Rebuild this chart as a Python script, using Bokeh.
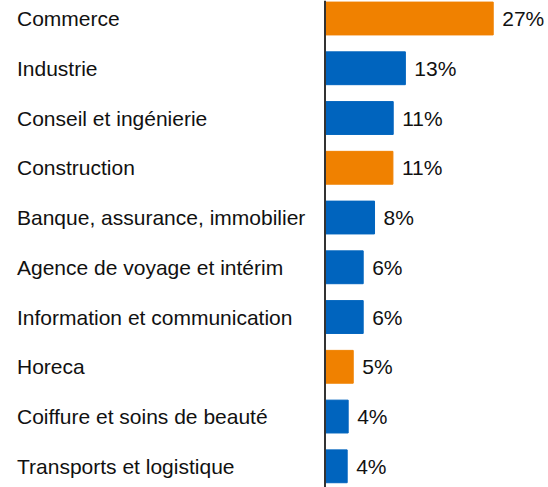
from bokeh.plotting import figure
from bokeh.models import ColumnDataSource, Range1d, FactorRange, Span
from bokeh.core.properties import value
from bokeh.transform import dodge
from bokeh.embed import file_html
from bokeh.resources import INLINE

categories = ["Commerce", "Industrie", "Conseil et ingénierie", "Construction",
              "Banque, assurance, immobilier", "Agence de voyage et intérim",
              "Information et communication", "Horeca",
              "Coiffure et soins de beauté", "Transports et logistique"]
shares = [27.0, 12.9, 10.95, 10.9, 7.95, 6.13, 6.13, 4.53, 3.72, 3.56]
share_labels = ["27%", "13%", "11%", "11%", "8%", "6%", "6%", "5%", "4%", "4%"]
highlight = [True, False, False, True, False, False, False, True, False, False]

ORANGE = "#F08100"
BLUE = "#0064BE"
colors = [ORANGE if h else BLUE for h in highlight]

src = ColumnDataSource(dict(cat=categories, val=shares, lbl=share_labels,
                            color=colors, zero=[0] * len(categories)))

W, H = 548, 487
px_per_unit = 6.23
x0_px = 324.5

y_range = FactorRange(factors=list(reversed(categories)),
                      range_padding=-0.106, range_padding_units="absolute")
p = figure(width=W, height=H, output_backend="svg", toolbar_location=None,
           y_range=y_range,
           x_range=Range1d(-x0_px / px_per_unit, (W - x0_px) / px_per_unit),
           min_border_left=0, min_border_right=0, min_border_top=0, min_border_bottom=0)
p.outline_line_color = None
p.axis.visible = False
p.grid.visible = False
p.background_fill_color = "white"
p.border_fill_color = "white"

ypos = dodge("cat", 0.032, range=y_range)

p.hbar(y=ypos, left=0, right="val", height=0.66, color="color", source=src)

font = value("Liberation Sans")
p.text(x="val", y=ypos, text="lbl", x_offset=9, text_align="left",
       text_baseline="middle", text_font=font, text_font_size="21px",
       text_color="#111111", source=src)
p.text(x="zero", y=ypos, text="cat", x_offset=-(x0_px - 16.5), text_align="left",
       text_baseline="middle", text_font=font, text_font_size="21px",
       text_color="#111111", source=src)

p.add_layout(Span(location=0, dimension="height", line_color="#333333", line_width=2))

open("out.html", "w").write(file_html(p, INLINE))
